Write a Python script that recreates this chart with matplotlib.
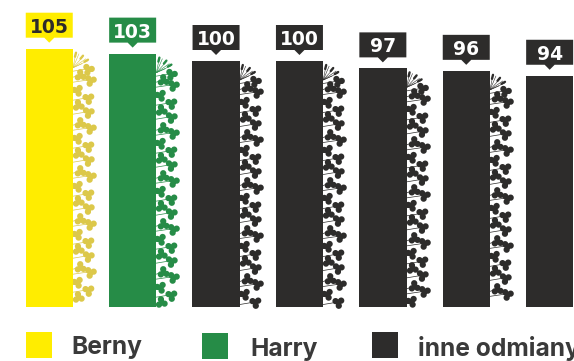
import matplotlib
matplotlib.use("Agg")
import matplotlib.pyplot as plt
import numpy as np
from matplotlib.patches import Polygon, Rectangle
from matplotlib.path import Path
from matplotlib.markers import MarkerStyle
from matplotlib.transforms import Affine2D

values = [105, 103, 100, 100, 97, 96, 94]
bar_colors = ["#FFED00", "#268C47", "#2D2C2B", "#2D2C2B", "#2D2C2B", "#2D2C2B", "#2D2C2B"]
clover_colors = ["#DCC84A", "#268C47", "#2D2C2B", "#2D2C2B", "#2D2C2B", "#2D2C2B", "#2D2C2B"]
label_colors = ["#2D2C2B", "white", "white", "white", "white", "white", "white"]
legend_names = ["Berny", "Harry", "inne odmiany"]
legend_colors = ["#FFED00", "#268C47", "#2D2C2B"]

W, H = 574, 361
PX_PER_BAR = 83.4
PX_PER_UNIT = 2.46
BASE_Y = 307
BAR_W = 47.5 / PX_PER_BAR

# repeating sprig: x offset from the bar edge, y offset below bar top (px), rotation
first_clover = (15, 20, 10)
sprig = [(7, 26, -25), (17, 31, 15), (4, 41, 50), (15, 49, 35), (5, 56, -20), (15, 63, 20)]
SPRIG_STEP = 48

fig = plt.figure(figsize=(W / 100, H / 100), dpi=100)
ax = fig.add_axes([0, (H - BASE_Y) / H, 1, BASE_Y / H])
ax.set_xlim(-49.25 / PX_PER_BAR, (W - 49.25) / PX_PER_BAR)
ax.set_ylim(0, BASE_Y / PX_PER_UNIT)
ax.axis("off")


def clover_path():
    # three round lobes around a small hub, the open side faces the bar
    parts = []
    for a in [0, 120, 240]:
        t = np.radians(a)
        parts.append(Path.circle((1.05 * np.cos(t), 1.05 * np.sin(t)), 1.0))
    parts.append(Path.circle((0, 0), 0.6))
    return Path.make_compound_path(*parts)


leaf = clover_path()


def dx(px):
    return px / PX_PER_BAR


def dy(px):
    return px / PX_PER_UNIT


def draw_fan(edge, top, color):
    # thin rays and small leaves at the top of each column
    for ex, ey in [(3, 4), (6, 5), (10, 8), (13, 10), (15, 12), (9, 15)]:
        ax.plot([edge, edge + dx(ex)], [top - dy(19), top - dy(ey)], color=color, lw=0.4,
                solid_capstyle="butt")
    for ex, ey, lx, ly in [(3, 4, 1, 4), (10, 7, 2.5, 3), (15, 11, 3.5, 2)]:
        ax.plot([edge + dx(ex - lx), edge + dx(ex)], [top - dy(ey + ly), top - dy(ey)], color=color,
                lw=1.7, solid_capstyle="round")


def draw_sprigs(edge, top, color):
    height_px = top * PX_PER_UNIT
    clovers = [first_clover]
    for k in range(6):
        for ox, oy, rot in sprig:
            clovers.append((ox, oy + k * SPRIG_STEP, rot))
    for ox, oy, rot in clovers:
        if oy > height_px - 4:
            continue
        yd = top - dy(oy)
        ax.plot([edge, edge + dx(ox)], [yd - dy(2.5), yd], color=color, lw=0.5, zorder=2)
        marker = MarkerStyle(leaf, transform=Affine2D().rotate_deg(rot))
        ax.scatter([edge + dx(ox)], [yd], marker=marker, s=85, color=color, linewidths=0, zorder=3,
                   clip_on=False)


def draw_callout(x, top, text, fill, text_color):
    half = dx(23.5)
    bottom = top + dy(11)
    upper = top + dy(36)
    pts = [(x - half, bottom), (x - dx(5), bottom), (x, top + dy(6)), (x + dx(5), bottom),
           (x + half, bottom), (x + half, upper), (x - half, upper)]
    ax.add_patch(Polygon(pts, closed=True, facecolor=fill, edgecolor="none", clip_on=False))
    ax.text(x, (bottom + upper) / 2, text, ha="center", va="center_baseline", color=text_color,
            fontsize=13.5, fontweight="bold", family="DejaVu Sans", clip_on=False)


for i, v in enumerate(values):
    ax.bar(i, v, width=BAR_W, color=bar_colors[i], linewidth=0, zorder=4)
    edge = i + BAR_W / 2
    if i < len(values) - 1:
        draw_fan(edge, v, clover_colors[i])
        draw_sprigs(edge, v, clover_colors[i])
    draw_callout(i, v, str(v), bar_colors[i], label_colors[i])

# legend along the bottom
for name, color, sx, sy, tx, ty in zip(legend_names, legend_colors, [26, 202, 372], [332, 333, 332],
                                       [71, 250, 418], [354, 356, 356]):
    fig.add_artist(Rectangle((sx / W, 1 - (sy + 26) / H), 26 / W, 26 / H, color=color, linewidth=0,
                             transform=fig.transFigure))
    fig.text(tx / W, 1 - ty / H, name, fontsize=17.7, fontweight="bold", family="Inter",
             color="#3A3A3A", ha="left", va="baseline")

fig.savefig("out.png", dpi=100)
